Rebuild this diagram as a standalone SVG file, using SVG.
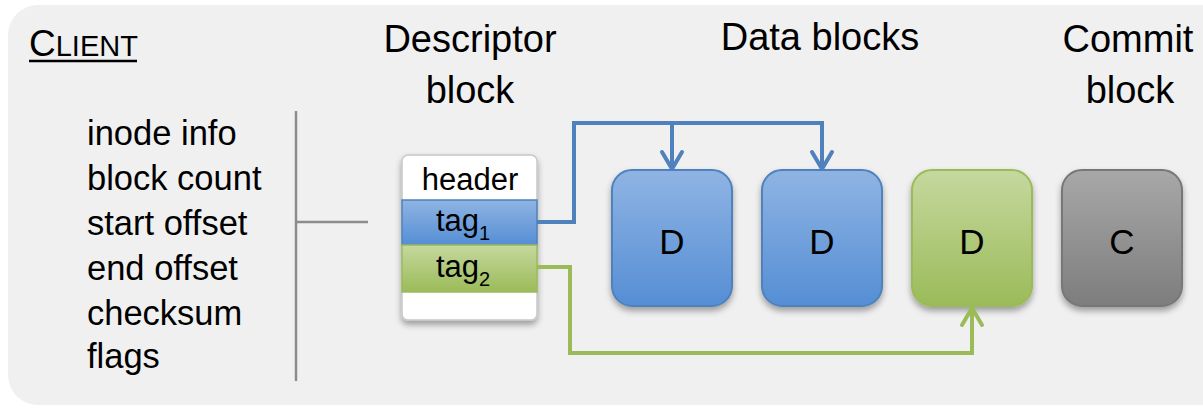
<svg xmlns="http://www.w3.org/2000/svg" width="1203" height="408" viewBox="0 0 1203 408">
  <defs>
    <linearGradient id="gBlue" x1="0" y1="0" x2="0" y2="1">
      <stop offset="0" stop-color="#8fb4e3"/>
      <stop offset="1" stop-color="#558ed5"/>
    </linearGradient>
    <linearGradient id="gGreen" x1="0" y1="0" x2="0" y2="1">
      <stop offset="0" stop-color="#c5d89e"/>
      <stop offset="1" stop-color="#9bbb59"/>
    </linearGradient>
    <linearGradient id="gGray" x1="0" y1="0" x2="0" y2="1">
      <stop offset="0" stop-color="#a8a8a8"/>
      <stop offset="1" stop-color="#7d7d7d"/>
    </linearGradient>
    <filter id="shadow" x="-20%" y="-20%" width="140%" height="150%">
      <feDropShadow dx="0" dy="4" stdDeviation="3" flood-color="#000" flood-opacity="0.35"/>
    </filter>
    <marker id="arrowBlue" markerUnits="userSpaceOnUse" markerWidth="30" markerHeight="30" viewBox="-20 -15 30 30" refX="0" refY="0" orient="auto">
      <path d="M -17 -10 L 0 0 L -17 10" fill="none" stroke="#4f81bd" stroke-width="4" stroke-linecap="round" stroke-linejoin="round"/>
    </marker>
    <marker id="arrowGreen" markerUnits="userSpaceOnUse" markerWidth="30" markerHeight="30" viewBox="-20 -15 30 30" refX="0" refY="0" orient="auto">
      <path d="M -17 -10 L 0 0 L -17 10" fill="none" stroke="#9bbb59" stroke-width="4" stroke-linecap="round" stroke-linejoin="round"/>
    </marker>
  </defs>
  <style>
    text { font-family: "Liberation Sans", Arial, sans-serif; fill: #000; }
    .title { font-size: 38px; text-anchor: middle; }
    .list { font-size: 34.5px; }
    .row { font-size: 31px; text-anchor: middle; }
    .sub { font-size: 20px; }
    .blk { font-size: 35px; text-anchor: middle; }
    .rule { stroke: #8c8c8c; stroke-width: 2.5; fill: none; }
  </style>

  <!-- client panel -->
  <rect x="8" y="5" width="1230" height="400" rx="30" fill="#f0f0f0"/>

  <g id="client-label">
    <text x="29" y="56"><tspan font-size="37px">C</tspan><tspan font-size="29px">LIENT</tspan></text>
    <line x1="29" y1="61" x2="137" y2="61" stroke="#000" stroke-width="2.5"/>
  </g>

  <g id="titles">
    <text class="title" x="470" y="52">Descriptor</text>
    <text class="title" x="470" y="103">block</text>
    <text class="title" x="820" y="50">Data blocks</text>
    <text class="title" x="1128" y="52">Commit</text>
    <text class="title" x="1130" y="103">block</text>
  </g>

  <g id="fields">
    <text class="list" x="87" y="145">inode info</text>
    <text class="list" x="87" y="190">block count</text>
    <text class="list" x="87" y="235">start offset</text>
    <text class="list" x="87" y="280">end offset</text>
    <text class="list" x="87" y="325">checksum</text>
    <text class="list" x="87" y="368">flags</text>
    <path class="rule" d="M 296 111 V 381 M 296 222 H 368"/>
  </g>

  <g id="descriptor-block">
    <rect x="402" y="155" width="135" height="165" rx="6" fill="#ffffff" stroke="#c8c8c8" stroke-width="1.5" filter="url(#shadow)"/>
    <text class="row" x="470" y="190">header</text>
    <g id="tag1">
      <rect x="402" y="200" width="135" height="45" fill="url(#gBlue)" stroke="#4f81bd" stroke-width="1.5"/>
      <text class="row" x="463" y="231">tag<tspan class="sub" dy="9">1</tspan></text>
    </g>
    <g id="tag2">
      <rect x="402" y="245" width="135" height="47" fill="url(#gGreen)" stroke="#9bbb59" stroke-width="1.5"/>
      <text class="row" x="463" y="277">tag<tspan class="sub" dy="9">2</tspan></text>
    </g>
  </g>

  <g id="data-block-1">
    <rect x="612" y="170" width="120" height="136" rx="20" fill="url(#gBlue)" stroke="#4f81bd" stroke-width="2" filter="url(#shadow)"/>
    <text class="blk" x="672" y="254">D</text>
  </g>
  <g id="data-block-2">
    <rect x="762" y="170" width="120" height="136" rx="20" fill="url(#gBlue)" stroke="#4f81bd" stroke-width="2" filter="url(#shadow)"/>
    <text class="blk" x="822" y="254">D</text>
  </g>
  <g id="data-block-3">
    <rect x="912" y="170" width="120" height="136" rx="20" fill="url(#gGreen)" stroke="#9bbb59" stroke-width="2" filter="url(#shadow)"/>
    <text class="blk" x="972" y="254">D</text>
  </g>
  <g id="commit-block">
    <rect x="1062" y="170" width="120" height="136" rx="20" fill="url(#gGray)" stroke="#777777" stroke-width="2" filter="url(#shadow)"/>
    <text class="blk" x="1122" y="254">C</text>
  </g>

  <g id="connectors" fill="none" stroke-width="4" stroke-linejoin="miter">
    <path d="M 537 222 H 574 V 123 H 822 V 169" stroke="#4f81bd" marker-end="url(#arrowBlue)"/>
    <path d="M 672 123 V 169" stroke="#4f81bd" marker-end="url(#arrowBlue)"/>
    <path d="M 537 267 H 570 V 353 H 972 V 308" stroke="#9bbb59" marker-end="url(#arrowGreen)"/>
  </g>
</svg>
